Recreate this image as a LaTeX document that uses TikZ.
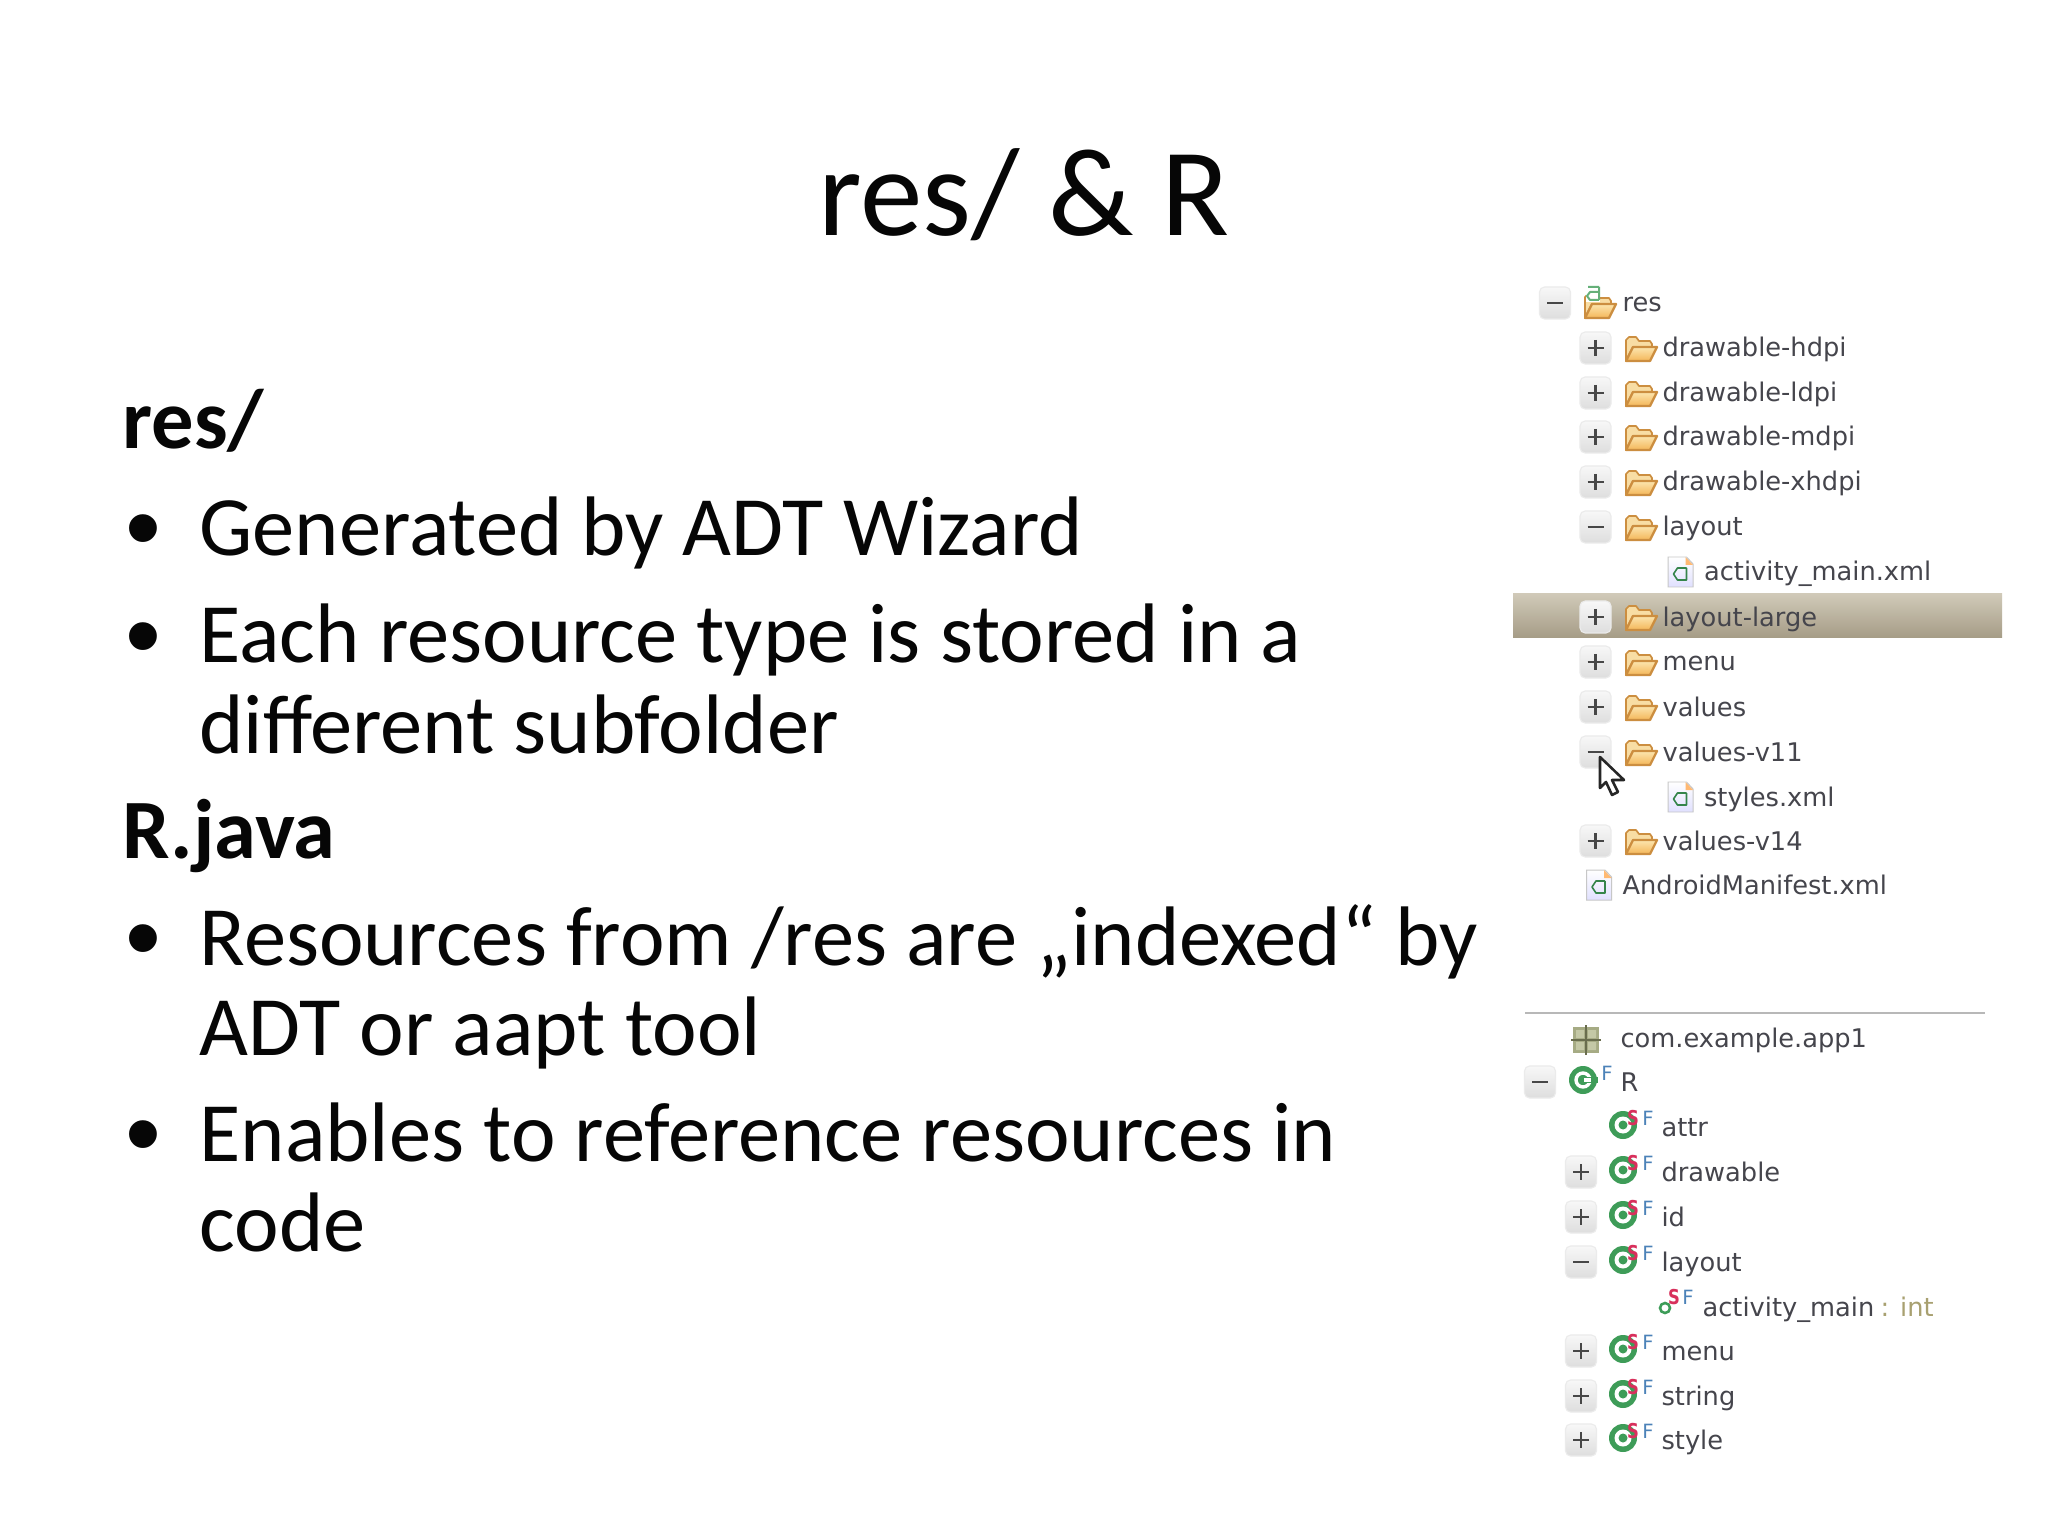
\documentclass[tikz,border=0pt]{standalone}
\usepackage{fontspec}
\setmainfont{Carlito}
\newfontfamily\treefont{DejaVu Sans}
\newfontfamily\bulfont{Liberation Sans}
\definecolor{treeink}{HTML}{45454C}
\definecolor{slideink}{HTML}{060606}
\definecolor{foldline}{HTML}{CC8E40}
\definecolor{foldback}{HTML}{F8DDA4}
\definecolor{foldtop}{HTML}{FCE6B0}
\definecolor{foldbot}{HTML}{F4B658}
\definecolor{classgreen}{HTML}{3E9C58}
\definecolor{staticred}{HTML}{D8305C}
\definecolor{finalblue}{HTML}{4C82B8}
\definecolor{inttan}{HTML}{A8A070}
\definecolor{bandtop}{HTML}{D0C9B8}
\definecolor{bandbot}{HTML}{A59C86}
\definecolor{pkgfill}{HTML}{A6AB84}
\definecolor{pkgcell}{HTML}{C4C8A6}
\definecolor{pkgline}{HTML}{696D4E}
\tikzset{
  slidetitle/.style={font=\fontsize{44}{44}\selectfont,text=slideink,inner sep=0pt,anchor=base},
  slidehead/.style={font=\fontsize{29.7}{30}\selectfont\bfseries,text=slideink,inner sep=0pt,anchor=base west},
  slideline/.style={font=\fontsize{29.7}{30}\selectfont,text=slideink,inner sep=0pt,anchor=base west},
  slidebullet/.style={font=\fontsize{36}{36}\selectfont\bulfont,text=slideink,inner sep=0pt,anchor=base},
  treetext/.style={font=\fontsize{9.03}{9.5}\selectfont\treefont,text=treeink,inner sep=0pt,anchor=base west},
  modS/.style={font=\fontsize{7.2}{8}\selectfont\bfseries\treefont,text=staticred,inner sep=0pt,xscale=0.8},
  modF/.style={font=\fontsize{6.9}{8}\selectfont\treefont,text=finalblue,inner sep=0pt},
  boxshape/.style={draw=black!8,line width=0.4pt,rounded corners=1.8pt,top color=white!94!gray,bottom color=black!13!white},
  signline/.style={draw=black!72,line width=0.75pt},
  fileshape/.style={draw=black!22,line width=0.35pt,top color=white,bottom color=blue!12!white},
}
\newcommand{\minusbox}[2]{\path[boxshape] (#1-15.5,#2-16) rectangle (#1+15.5,#2+16);\draw[signline] (#1-8,#2) -- (#1+8,#2);}
\newcommand{\plusbox}[2]{\minusbox{#1}{#2}\draw[signline] (#1,#2-8) -- (#1,#2+8);}
\newcommand{\foldericon}[2]{\begin{scope}[shift={(#1,#2)}]
  \filldraw[draw=foldline,fill=foldback,line width=0.6pt,line join=round] (-15,12) -- (-15,-9) -- (-12,-12) -- (-5,-12) -- (-2,-8) -- (9,-8) -- (11,-5) -- (11,-2) -- (-8,-2) -- cycle;
  \filldraw[draw=foldline,line width=0.8pt,line join=round,top color=foldtop,bottom color=foldbot] (-15,12) -- (-8,-2) -- (16,-2) -- (9,12) -- cycle;
\end{scope}}
\newcommand{\fileicon}[2]{\begin{scope}[shift={(#1,#2)}]
  \path[fileshape] (-12.5,-15) -- (6,-15) -- (12.5,-8) -- (12.5,15) -- (-12.5,15) -- cycle;
  \fill[orange!55!white] (5,-15) -- (12.5,-7) -- (5,-7) -- cycle;
  \draw[classgreen!85!black,line width=0.55pt,line join=round] (6,-4) -- (-3,-4) -- (-7,2) -- (-3,8) -- (6,8) -- (6,-4);
\end{scope}}
\newcommand{\classicon}[2]{\begin{scope}[shift={(#1,#2)}]
  \fill[classgreen] (0,0) circle (14);
  \fill[white] (0,0) circle (8.5);
  \fill[classgreen] (0,0) circle (4.5);
\end{scope}}
\newcommand{\nestedrow}[3]{% y centre, name, label
  \classicon{1623}{#1-2}
  \node[modS] (#2S) at (1633,#1-9) {S};
  \node[modF] (#2F) at (1648,#1-9) {F};
  \node[treetext] (#2) at (1661,#1+9) {#3};
}
\begin{document}
\begin{tikzpicture}[x=0.3515625pt,y=-0.3515625pt]
\useasboundingbox (0,0) rectangle (2048,1536);
\fill[white] (0,0) rectangle (2048,1536);

% slide text
\node[slidetitle] (title) at (1024,236) {res/ \& R};
\node[slidehead] (hres) at (122,449) {res/};
\node[slidebullet] (b1) at (143,563) {•};
\node[slideline] (l1) at (199,556) {Generated by ADT Wizard};
\node[slidebullet] (b2) at (143,670) {•};
\node[slideline] (l2) at (199,663) {Each resource type is stored in a};
\node[slideline] (l3) at (199,753) {different subfolder};
\node[slidehead] (hjava) at (122,858) {R.java};
\node[slidebullet] (b3) at (143,972) {•};
\node[slideline] (l4) at (199,965) {Resources from /res are „indexed“ by};
\node[slideline] (l5) at (199,1055) {ADT or aapt tool};
\node[slidebullet] (b4) at (143,1168) {•};
\node[slideline] (l6) at (199,1161) {Enables to reference resources in};
\node[slideline] (l7) at (199,1251) {code};

% upper tree
\fill[top color=bandtop,bottom color=bandbot] (1513,594) rectangle (2002,638);
\minusbox{1555}{303}
\foldericon{1600}{306}
\begin{scope}[shift={(1592,296)}]
  \fill[white] (-6,-9) rectangle (8,6);
  \draw[classgreen!80!white,line width=0.7pt,line join=round] (7,-4) -- (-2,-4) -- (-5,0) -- (-2,4) -- (7,4) (7,-9) -- (-4,-9) (7,-9) -- (7,4);
\end{scope}
\node[treetext] (res) at (1622,312) {res};
\foreach \y/\t/\n in {348/drawable-hdpi/a,393/drawable-ldpi/b,437/drawable-mdpi/c,482/drawable-xhdpi/d,617/layout-large/f,662/menu/g,707/values/h,841/values-v14/k}{
  \plusbox{1595.5}{\y}
  \foldericon{1641}{\y+1}
  \node[treetext] (u\n) at (1662,\y+9) {\t};
}
\foreach \y/\t/\n in {527/layout/e,752/values-v11/i}{
  \minusbox{1595.5}{\y}
  \foldericon{1641}{\y+1}
  \node[treetext] (u\n) at (1662,\y+9) {\t};
}
\fileicon{1680.5}{572}
\node[treetext] (ufa) at (1703.5,581) {activity\_main.xml};
\fileicon{1680.5}{797}
\node[treetext] (ufb) at (1703.5,806) {styles.xml};
\fileicon{1599}{885}
\node[treetext] (ufc) at (1622,894) {AndroidManifest.xml};

% cursor
\filldraw[draw=black!85,fill=white,line width=0.9pt,line join=round]
  (1600,757) -- (1600,788) -- (1606,782) -- (1612,795) -- (1618,792) -- (1612,780) -- (1624,780) -- cycle;

% divider
\draw[black!28,line width=0.5pt] (1525,1013) -- (1985,1013);

% lower tree
\begin{scope}[shift={(1586,1040)}]
  \fill[pkgfill] (-13,-13) rectangle (13,13);
  \fill[pkgcell] (-10,-10) rectangle (-2,-2) (2,-10) rectangle (10,-2) (-10,2) rectangle (-2,10) (2,2) rectangle (10,10);
  \draw[pkgline,line width=0.6pt] (-15,0) -- (15,0) (0,-15) -- (0,15);
\end{scope}
\node[treetext] (pkg) at (1620,1047) {com.example.app1};
\minusbox{1540}{1082}
\fill[classgreen] (1583,1080) circle (14);
\draw[white,line width=1.2pt] (1583,1080) circle (7);
\fill[classgreen] (1587,1077) rectangle (1598,1083);
\fill[white] (1584,1078) rectangle (1591,1082);
\node[modF] (rF) at (1607,1073) {F};
\node[treetext] (rname) at (1620,1091) {R};
\nestedrow{1127}{attr}{attr}
\nestedrow{1172}{draw}{drawable}
\plusbox{1581}{1172}
\nestedrow{1217}{idn}{id}
\plusbox{1581}{1217}
\nestedrow{1262}{lay}{layout}
\minusbox{1581}{1262}
\draw[classgreen,line width=0.9pt] (1665,1308) circle (5);
\node[modS] (acS) at (1674,1297) {S};
\node[modF] (acF) at (1688,1297) {F};
\node[treetext] (acname) at (1702,1316) {activity\_main};
\node[treetext,text=inttan] (acint) at (1880,1316) {: int};
\nestedrow{1351}{men}{menu}
\plusbox{1581}{1351}
\nestedrow{1396}{str}{string}
\plusbox{1581}{1396}
\nestedrow{1440}{sty}{style}
\plusbox{1581}{1440}
\end{tikzpicture}
\end{document}
